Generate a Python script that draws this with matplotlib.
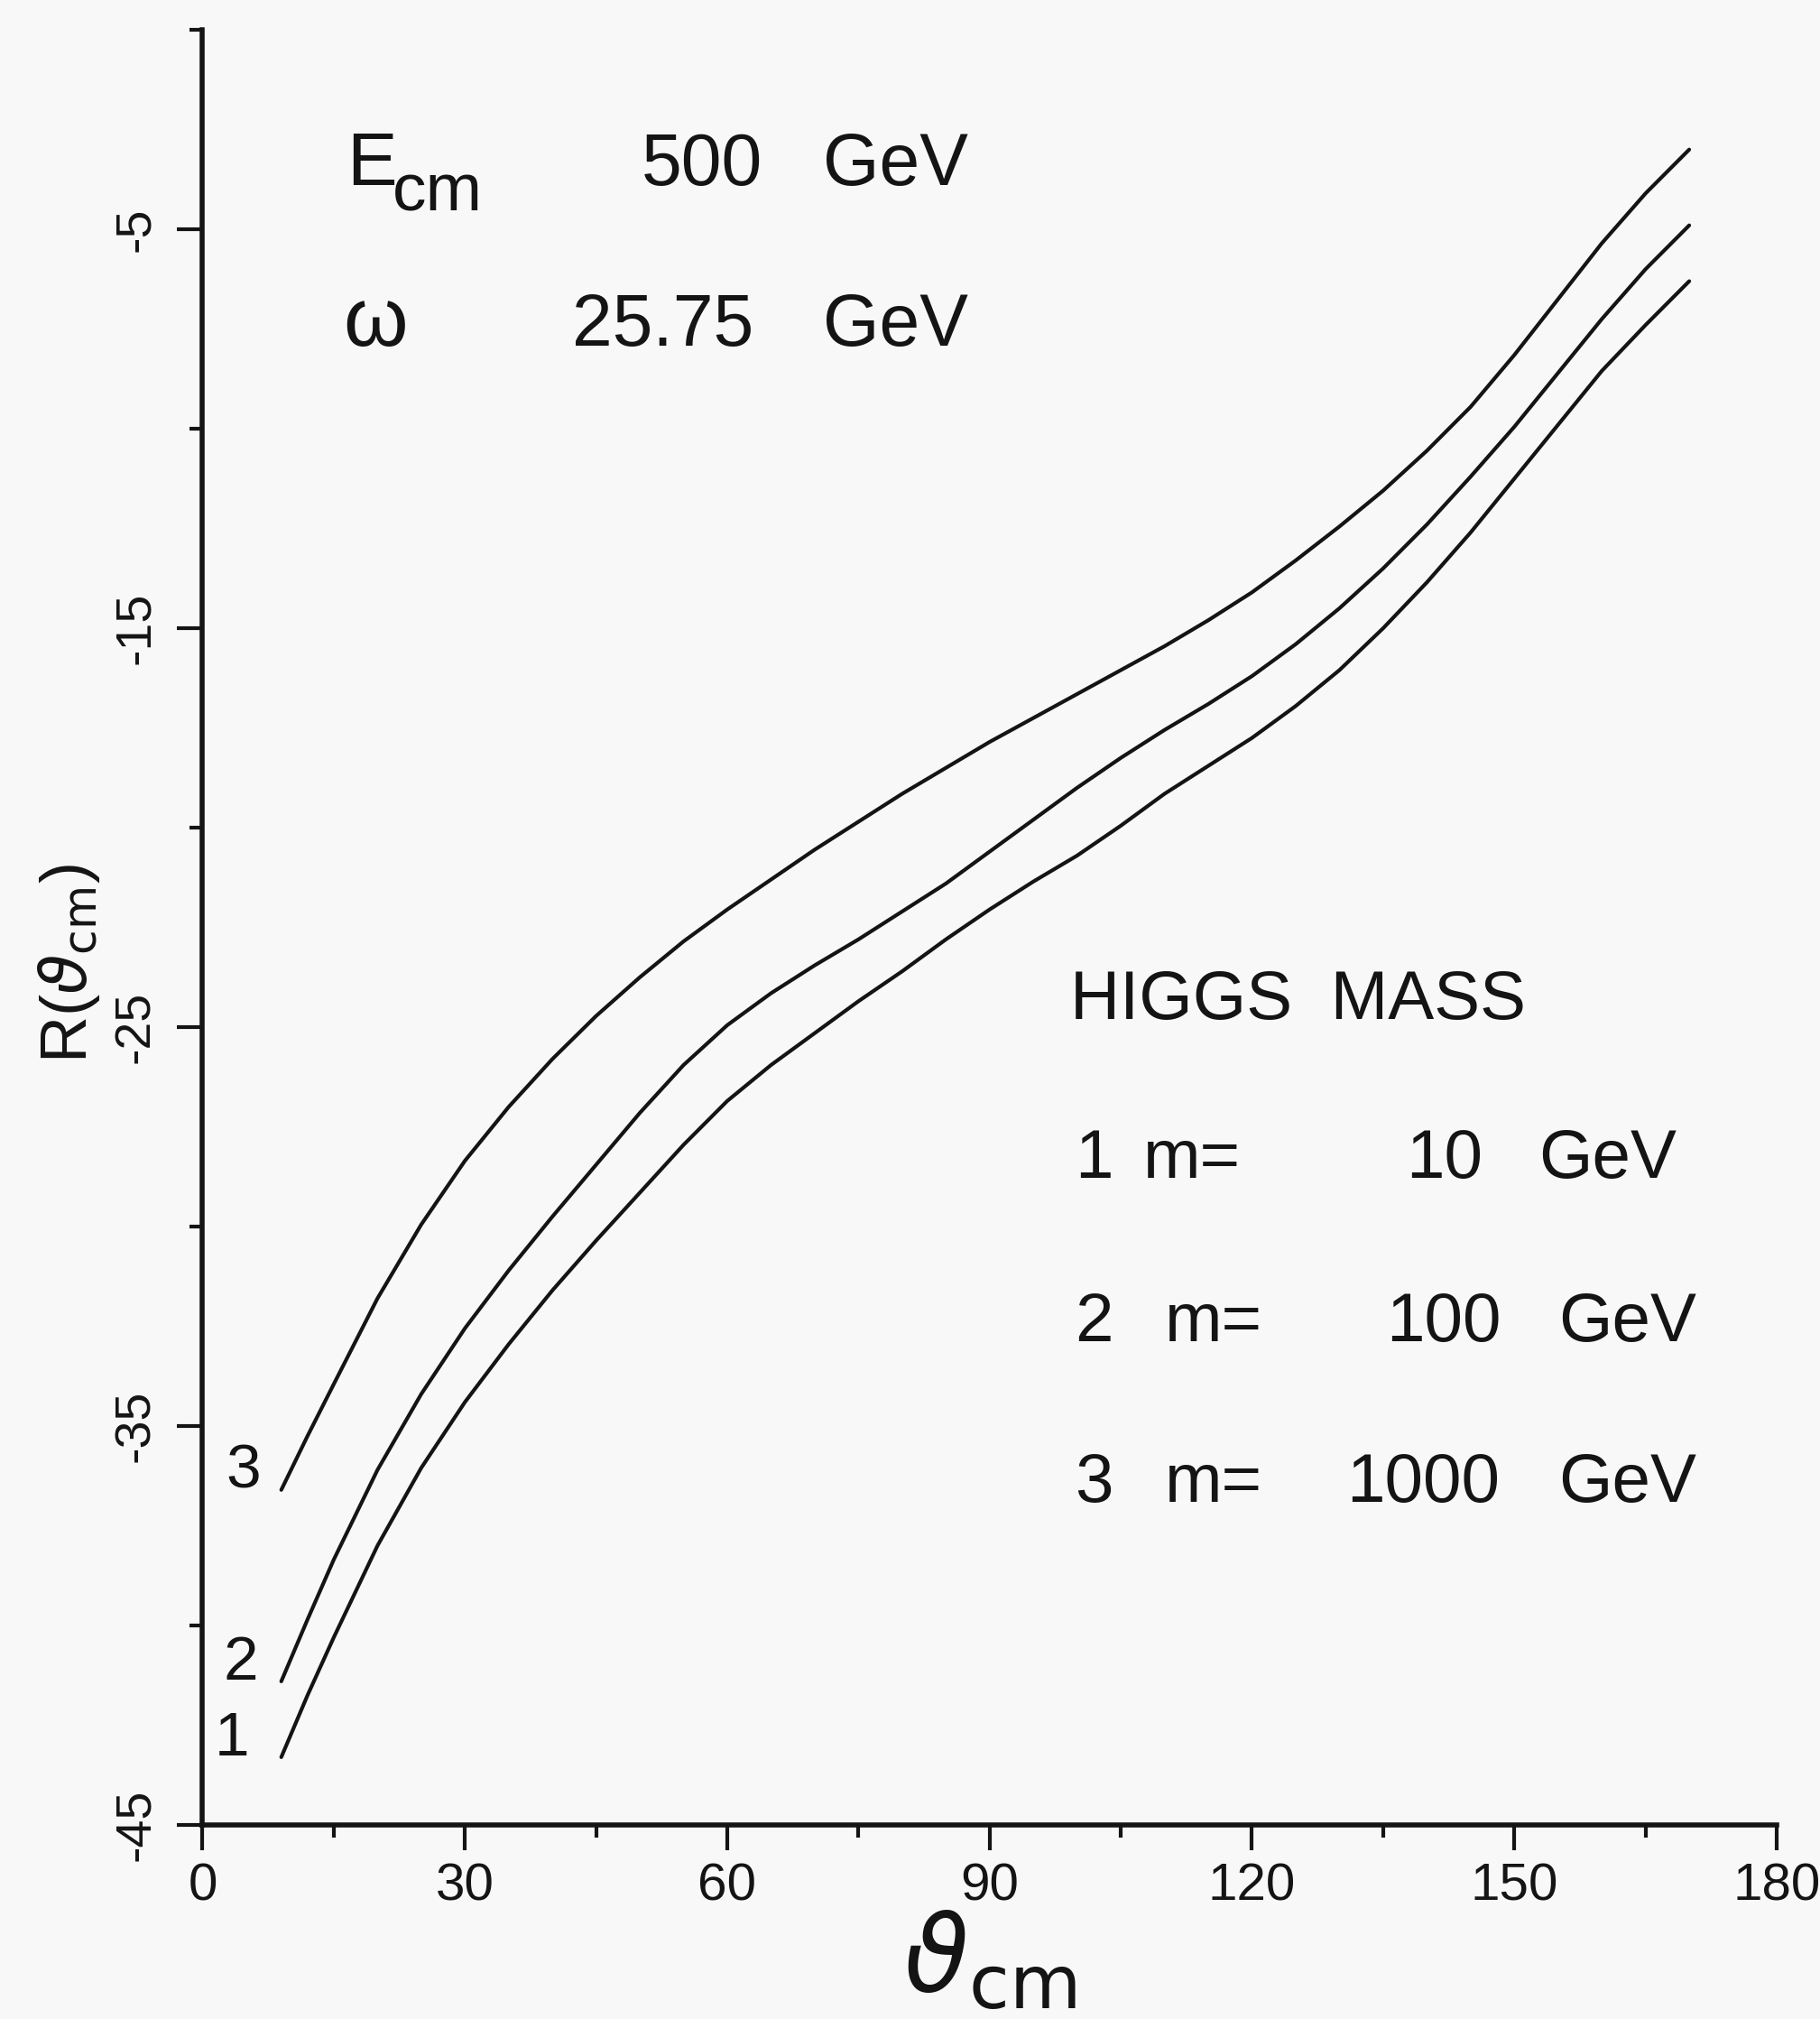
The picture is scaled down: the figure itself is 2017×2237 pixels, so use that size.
import matplotlib

matplotlib.use("Agg")
import matplotlib.pyplot as plt
from matplotlib.ticker import FixedLocator

plt.rcParams["font.family"] = ["Liberation Sans", "DejaVu Sans"]
plt.rcParams["axes.unicode_minus"] = False

# scattering angle in degrees
ANGLE = [9, 12, 15, 20, 25, 30, 35, 40, 45, 50, 55, 60, 65, 70, 75, 80, 85, 90,
         95, 100, 105, 110, 115, 120, 125, 130, 135, 140, 145, 150, 155, 160, 165, 170]

# R(theta_cm), one list per Higgs mass
R_M10 = [-43.3, -41.75, -40.3, -38.0, -36.05, -34.4, -32.95, -31.6, -30.35, -29.15,
         -27.95, -26.85, -25.95, -25.15, -24.35, -23.6, -22.8, -22.05, -21.35, -20.7,
         -19.95, -19.15, -18.45, -17.75, -16.95, -16.05, -15.0, -13.85, -12.6, -11.25,
         -9.9, -8.55, -7.4, -6.3]
R_M100 = [-41.4, -39.85, -38.35, -36.1, -34.2, -32.55, -31.1, -29.75, -28.45, -27.15,
          -25.95, -24.95, -24.15, -23.45, -22.8, -22.1, -21.4, -20.6, -19.8, -19.0,
          -18.25, -17.55, -16.9, -16.2, -15.4, -14.5, -13.5, -12.4, -11.2, -9.95,
          -8.6, -7.25, -6.0, -4.9]
R_M1000 = [-36.6, -35.25, -33.95, -31.8, -29.95, -28.35, -27.0, -25.8, -24.72, -23.75,
           -22.85, -22.05, -21.3, -20.55, -19.85, -19.15, -18.5, -17.85, -17.25, -16.65,
           -16.05, -15.45, -14.8, -14.1, -13.3, -12.45, -11.55, -10.55, -9.45, -8.15,
           -6.75, -5.35, -4.1, -3.0]

CURVES = [R_M10, R_M100, R_M1000]
CURVE_LABELS = ["1", "2", "3"]

X_TICKS = [0, 30, 60, 90, 120, 150, 180]
X_MINOR = [15, 45, 75, 105, 135, 165]
Y_TICKS = [-45, -35, -25, -15, -5]
Y_MINOR = [-40, -30, -20, -10, 0]

INK = "#141414"
PAPER = "#f8f8f8"
W, H = 2017, 2237


def fig_xy(px, py):
    # pixel position on the page -> figure fraction
    return px / W, 1 - py / H


def put(fig, px, py, s, size, **kw):
    x, y = fig_xy(px, py)
    fig.text(x, y, s, fontsize=size, color=INK, va="baseline", **kw)


fig = plt.figure(figsize=(W / 100, H / 100), dpi=100, facecolor=PAPER)
ax = fig.add_axes([0.1113, 0.0961, 0.8649, 0.8891])
ax.set_facecolor(PAPER)

for values in CURVES:
    ax.plot(ANGLE, values, color=INK, linewidth=3.0,
            solid_capstyle="round", solid_joinstyle="round")

# curve numbers sit just left of each curve start
for label, values, dx in zip(CURVE_LABELS, CURVES, [-5.6, -4.6, -4.3]):
    ax.text(ANGLE[0] + dx, values[0] + 0.45, label, fontsize=50, color=INK,
            ha="center", va="center")

ax.set_xlim(0, 180)
ax.set_ylim(-45, 0)
for side in ("top", "right"):
    ax.spines[side].set_visible(False)
for side in ("left", "bottom"):
    ax.spines[side].set_linewidth(4)
    ax.spines[side].set_color(INK)

ax.xaxis.set_major_locator(FixedLocator(X_TICKS))
ax.xaxis.set_minor_locator(FixedLocator(X_MINOR))
ax.yaxis.set_major_locator(FixedLocator(Y_TICKS))
ax.yaxis.set_minor_locator(FixedLocator(Y_MINOR))
ax.tick_params(which="major", direction="out", length=20, width=3, colors=INK)
ax.tick_params(which="minor", direction="out", length=10, width=3, colors=INK)
ax.tick_params(axis="x", which="major", pad=10)
ax.tick_params(axis="y", which="major", pad=14)

ax.set_xticklabels([str(t) for t in X_TICKS], fontsize=42)
ax.set_yticklabels([str(t) for t in Y_TICKS], fontsize=40, rotation=90, va="center")

ax.set_xlabel(r"$\vartheta_{\rm cm}$", fontsize=84, color=INK)
ax.xaxis.set_label_coords(0.5, -0.047)
ax.xaxis.label.set_va("top")
ax.set_ylabel(r"R($\vartheta_{\rm cm}$)", fontsize=52, color=INK)
ax.yaxis.set_label_coords(-0.064, 0.48)

# beam parameters, top left
put(fig, 384, 205, "E", 60)
put(fig, 435, 233, "cm", 54)
put(fig, 711, 205, "500", 58)
put(fig, 912, 205, "GeV", 58)
put(fig, 380, 383, "ω", 66)
put(fig, 634, 383, "25.75", 58)
put(fig, 912, 383, "GeV", 58)

# Higgs mass key
put(fig, 1186, 1129, "HIGGS  MASS", 55)
put(fig, 1191, 1305, "1", 55)
put(fig, 1267, 1305, "m=", 55)
put(fig, 1643, 1305, "10", 55, ha="right")
put(fig, 1705, 1305, "GeV", 55)
put(fig, 1191, 1486, "2", 55)
put(fig, 1291, 1486, "m=", 55)
put(fig, 1664, 1486, "100", 55, ha="right")
put(fig, 1727, 1486, "GeV", 55)
put(fig, 1191, 1664, "3", 55)
put(fig, 1291, 1664, "m=", 55)
put(fig, 1662, 1664, "1000", 55, ha="right")
put(fig, 1727, 1664, "GeV", 55)

fig.savefig("out.png", dpi=100, facecolor=PAPER)
